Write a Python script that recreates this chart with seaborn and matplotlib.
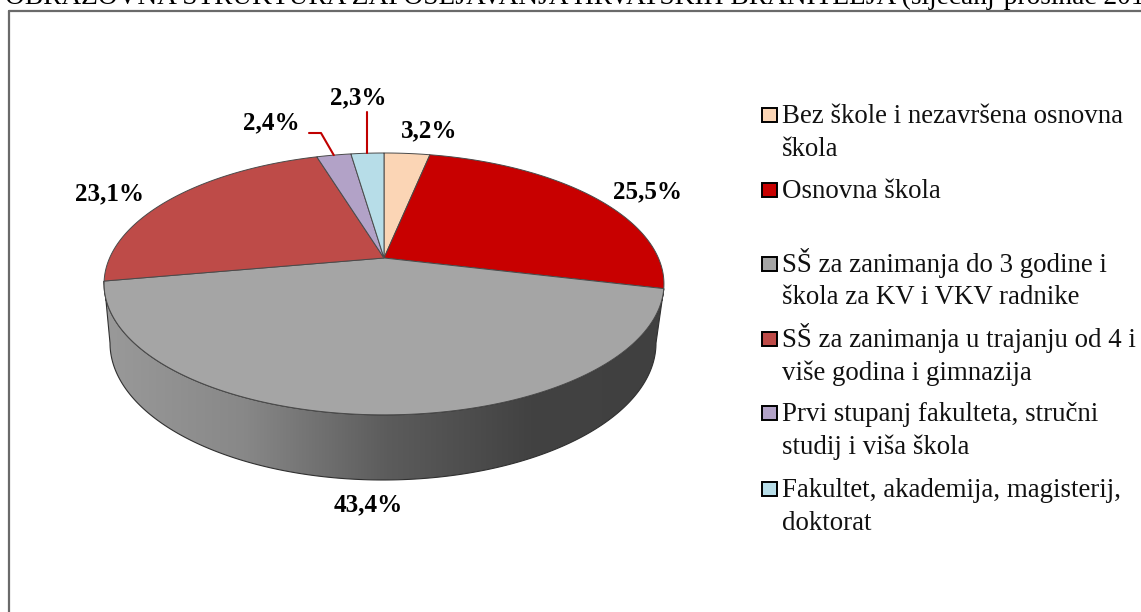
import numpy as np
import matplotlib.pyplot as plt
from matplotlib.patches import Polygon, Rectangle
import seaborn as sns

# ================= Data ================= #
categories = ["Bez škole i nezavršena osnovna\nškola",
              "Osnovna škola",
              "SŠ za zanimanja do 3 godine i\nškola za KV i VKV radnike",
              "SŠ za zanimanja u trajanju od 4 i\nviše godina i gimnazija",
              "Prvi stupanj fakulteta, stručni\nstudij i viša škola",
              "Fakultet, akademija, magisterij,\ndoktorat"]
shares = [3.2, 25.5, 43.4, 23.1, 2.4, 2.3]
colors = ["#FBD5B5", "#C80000", "#A5A5A5", "#BE4B48", "#B2A2C7", "#B7DDE8"]
title = "OBRAZOVNA STRUKTURA ZAPOŠLJAVANJA HRVATSKIH BRANITELJA (siječanj-prosinac 2011.)"

# ================= Layout (pixels) ================= #
W, H = 1141, 612
apexX, apexY = 384, 258
persp = -0.198
radX, radY = 274.4, 125.8
# centre of the label text for each slice
labelPos = [(429, 131), (647, 192), (368, 505), (110, 194), (271, 123), (358, 98)]
# baseline of the first text line for each legend entry
legendY = [123, 198, 272, 347, 421, 497]
lineGap = 32.5

sns.set_theme(style="white")
plt.rcParams['font.family'] = ['Liberation Serif', 'DejaVu Serif']


# ================= Local functions ================= #
def project(theta, r=1.0):
    # clockwise angle from 12 o'clock -> tilted disc in pixel coordinates
    u = r * np.sin(theta)
    v = -r * np.cos(theta)
    d = 1 + persp * v
    return apexX + radX * u / d, apexY + radY * v / d


def wallBottom(theta):
    # lower rim of the side wall
    return 383 + 273 * np.sin(theta), 343 - 137 * np.cos(theta)


# ================= Plot ================= #
fig = plt.figure(figsize=(W / 100, H / 100), dpi=100)
ax = fig.add_axes([0, 0, 1, 1])

fracs = np.array(shares) / np.sum(shares)
edges = np.concatenate([[0], np.cumsum(fracs)]) * 2 * np.pi

# Side wall of the big slice, shaded left to right
topX, topY = project(np.linspace(edges[2], edges[3], 200))
botX, botY = wallBottom(np.linspace(np.pi / 2, 3 * np.pi / 2, 200))
wall = Polygon(np.column_stack([np.r_[topX, botX[::-1]], np.r_[topY, botY[::-1]]]),
               closed=True, fc='none', ec='#303030', lw=0.8, zorder=2)
wallCmap = sns.blend_palette(["#9a9a9a", "#888888", "#5c5c5c", "#424242", "#404040"], as_cmap=True)
img = ax.imshow(np.linspace(0, 1, 256)[None, :], cmap=wallCmap, aspect='auto',
                extent=[botX.min() - 10, topX.max() + 10, 500, 270], zorder=1)
ax.add_patch(wall)
img.set_clip_path(wall)
ax.set_xlim(0, W)
ax.set_ylim(H, 0)
ax.axis('off')

# Top face
for i, c in enumerate(colors):
    arc = np.linspace(edges[i], edges[i + 1], 120)
    x, y = project(arc)
    ax.add_patch(Polygon(np.column_stack([np.r_[apexX, x], np.r_[apexY, y]]), closed=True,
                         fc=c, ec='#4a4a4a', lw=0.7, zorder=3))

# Data labels
for i, v in enumerate(shares):
    ax.text(labelPos[i][0], labelPos[i][1], ("%.1f%%" % v).replace('.', ','),
            fontsize=18, fontweight='bold', color='black', ha='center', va='center', zorder=5)

# Leader lines for the two thin slices
ex, ey = project((edges[4] + edges[5]) / 2)
ax.plot([309, 321, ex], [133, 133, ey], color='#C00000', lw=1.5, zorder=4)
ex, ey = project((edges[5] + edges[6]) / 2)
ax.plot([ex, ex], [112, ey], color='#C00000', lw=1.5, zorder=4)

# Legend
for i, cat in enumerate(categories):
    ax.add_patch(Rectangle((762, legendY[i] - 15.5), 14.5, 14.5, fc=colors[i], ec='black', lw=1.4, zorder=4))
    for j, line in enumerate(cat.split("\n")):
        ax.text(782, legendY[i] + j * lineGap, line, fontsize=19.4, color='#111111',
                ha='left', va='baseline', zorder=4)

# Chart frame, right and bottom fall outside the crop
ax.plot([8.5, 8.5], [H, 10.5], color='#6a6a6a', lw=1.6, clip_on=False, zorder=4)
ax.plot([8.5, W], [10.5, 10.5], color='#6a6a6a', lw=1.6, clip_on=False, zorder=4)

# Heading, cut off by the top and right edges
ax.text(5, 4.5, title, fontsize=19.7, color='black', ha='left', va='baseline', zorder=5)

fig.savefig('out.png', dpi=100)
